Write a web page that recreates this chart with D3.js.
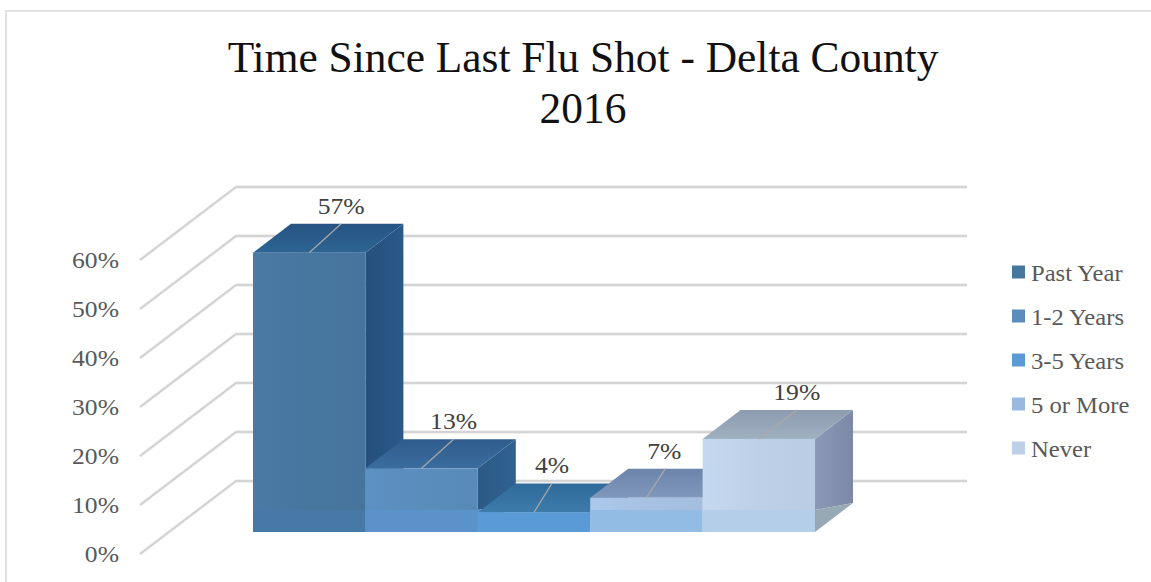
<!DOCTYPE html>
<html><head><meta charset="utf-8">
<script src="https://cdn.jsdelivr.net/npm/d3@7"></script>
<style>html,body{margin:0;padding:0;background:#fff}svg{display:block}text{font-family:"Liberation Serif",serif}</style>
</head><body><svg id="c" width="1151" height="582"></svg>
<script>
const titleLines = ["Time Since Last Flu Shot - Delta County", "2016"];
const categories = ["Past Year", "1-2 Years", "3-5 Years", "5 or More", "Never"];
const values = [57, 13, 4, 7, 19];
const yTicks = [0, 10, 20, 30, 40, 50, 60];

// styling
const frontColors = ["#47769f", "#5a8cbc", "#5b9bd5", "#a6c1e2", "#bdd0e8"];
const legendColors = ["#47769f", "#5a8cbc", "#5b9bd5", "#9ab9de", "#bdd0e8"];
const bandColors  = ["#4878a6", "#5b92c9", "#5a9ad6", "#93bce4", "#b4cde9"];
const topColors   = ["#2d6592", "#3a6d9f", "#3d7cab", "#7f98bb", "#9fb0c0"];
const topBack     = ["#265382", "#2f5c8c", "#2f6a99", "#6c84aa", "#8d9cb0"];
const sideColors  = ["#264f7c", "#2c5a86", "#3a75a5", "#6f8ab0", "#8c98b8"];
const sideBack    = ["#2a5a88", "#2f628f", "#3a75a5", "#6f8ab0", "#7b88a6"];
const labelDX = [0, 0, -14, -14, 6];
const leaderDX = [32, 32, 18, 19, 38];

const W = 1151, H = 582, labelStretch = 1.09;
const svg = d3.select("#c");

const x = d3.scaleBand().domain(categories).range([253, 815]).padding(0);
const yWall = d3.scaleLinear().domain([0, 60]).range([481, 187]);
const yBar = d3.scaleLinear().domain([0, 60]).range([532, 238]);
const depth = {dx: 38, dy: 29}, wallDepth = {dx: 96, dy: 73}, rightEnd = 967, bandH = 22;

function wide(sel, f = labelStretch) {
  sel.each(function () {
    const n = this.getComputedTextLength();
    d3.select(this).attr("textLength", n * f).attr("lengthAdjust", "spacingAndGlyphs");
  });
}
const poly = pts => pts.map(p => p.join(",")).join(" ");

// frame
svg.append("path").attr("d", `M6 ${H}V10.8H${W}`).attr("fill", "none").attr("stroke", "#dedede").attr("stroke-width", 1.8);

// title
svg.selectAll(".title").data(titleLines).join("text").attr("class", "title")
  .attr("x", 583).attr("y", (d, i) => 72 + i * 50.5).attr("text-anchor", "middle")
  .attr("font-size", 43.4).attr("fill", "#111").text(d => d);

// walls
const grid = svg.append("g").selectAll("g").data(yTicks).join("g");
[[3, "#e4e4e4"], [1, "#c4c4c4"]].forEach(([w, c]) => {
  grid.append("path").attr("fill", "none").attr("stroke", c).attr("stroke-width", w)
    .attr("d", d => `M140 ${yWall(d) + wallDepth.dy}L${140 + wallDepth.dx} ${yWall(d)}H${rightEnd}`);
});
svg.selectAll(".yl").data(yTicks).join("text").attr("class", "yl")
  .attr("x", 119).attr("y", d => yWall(d) + wallDepth.dy + 8).attr("text-anchor", "end")
  .attr("font-size", 23.5).attr("fill", "#595959").text(d => d + "%").call(wide);

// gradients
const defs = svg.append("defs");
categories.forEach((c, i) => {
  const f = defs.append("linearGradient").attr("id", "f" + i);
  f.append("stop").attr("offset", 0).attr("stop-color", d3.color(frontColors[i]).brighter(0.1));
  f.append("stop").attr("offset", 0.5).attr("stop-color", frontColors[i]);
  f.append("stop").attr("offset", 1).attr("stop-color", d3.color(frontColors[i]).darker(0.05));
  const t = defs.append("linearGradient").attr("id", "t" + i).attr("x1", 0).attr("x2", 0).attr("y1", 0).attr("y2", 1);
  t.append("stop").attr("offset", 0).attr("stop-color", topBack[i]);
  t.append("stop").attr("offset", 1).attr("stop-color", topColors[i]);
  const s = defs.append("linearGradient").attr("id", "s" + i);
  s.append("stop").attr("offset", 0).attr("stop-color", sideColors[i]);
  s.append("stop").attr("offset", 1).attr("stop-color", sideBack[i]);
});

// bars, left to right so that the later ones cover the earlier ones
svg.append("g").selectAll("g").data(values).join("g").each(function (v, i) {
  const g = d3.select(this), x0 = x(categories[i]), x1 = x0 + x.bandwidth();
  const yT = yBar(v), yB = yBar(0), {dx, dy} = depth;
  g.append("polygon").attr("fill", `url(#s${i})`)
    .attr("points", poly([[x1, yT], [x1 + dx, yT - dy], [x1 + dx, yB - dy], [x1, yB - bandH]]));
  g.append("polygon").attr("fill", i === 4 ? "#97a9b5" : bandColors[i])
    .attr("points", poly([[x1, yB], [x1 + dx, yB - dy], [x1, yB - bandH]]));
  g.append("polygon").attr("fill", `url(#t${i})`)
    .attr("points", poly([[x0, yT], [x0 + dx, yT - dy], [x1 + dx, yT - dy], [x1, yT]]));
  g.append("rect").attr("x", x0).attr("y", yT).attr("width", x1 - x0).attr("height", yB - yT).attr("fill", `url(#f${i})`);
  g.append("rect").attr("x", x0).attr("y", yB - Math.min(bandH, yB - yT)).attr("width", x1 - x0)
    .attr("height", Math.min(bandH, yB - yT)).attr("fill", bandColors[i]);
});

// leaders and labels
const cx = i => x(categories[i]) + x.bandwidth() / 2;
svg.append("g").selectAll("line").data(values).join("line")
  .attr("x1", (d, i) => cx(i)).attr("y1", d => yBar(d))
  .attr("x2", (d, i) => cx(i) + leaderDX[i]).attr("y2", d => yBar(d) - depth.dy)
  .attr("stroke", "#a9a9a9").attr("stroke-width", 1.2);
svg.selectAll(".dl").data(values).join("text").attr("class", "dl")
  .attr("x", (d, i) => cx(i) + 32 + labelDX[i]).attr("y", d => yBar(d) - depth.dy - 10)
  .attr("text-anchor", "middle").attr("font-size", 23.5).attr("fill", "#404040")
  .text(d => d + "%").call(wide);

// legend
const ly = d3.scalePoint().domain(categories).range([272, 448]);
svg.selectAll(".ls").data(categories).join("rect").attr("class", "ls")
  .attr("x", 1012).attr("y", d => ly(d) - 6.5).attr("width", 13).attr("height", 13)
  .attr("fill", (d, i) => legendColors[i]);
svg.selectAll(".lt").data(categories).join("text").attr("class", "lt")
  .attr("x", 1031).attr("y", d => ly(d) + 8.5).attr("font-size", 23).attr("fill", "#595959")
  .text(d => d).call(wide, 1.07);
</script></body></html>
